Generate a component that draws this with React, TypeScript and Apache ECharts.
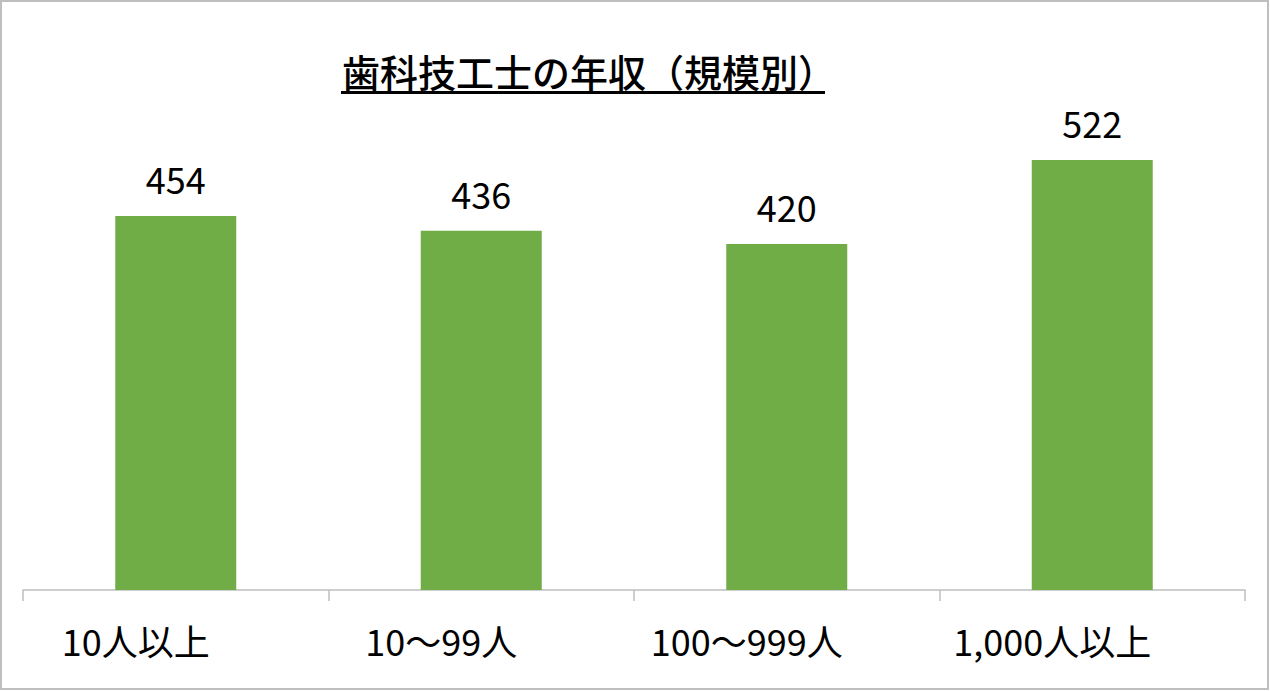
import React, { useEffect, useRef } from "react";
import * as echarts from "echarts";

const titleText = "歯科技工士の年収（規模別）";
const categories = ["10人以上", "10～99人", "100～999人", "1,000人以上"];
const values = [454, 436, 420, 522];

const FONT = "'Noto Sans CJK JP', 'Noto Sans', sans-serif";

export default function App() {
  const ref = useRef<HTMLDivElement>(null);
  useEffect(() => {
    if (!ref.current) return;
    const chart = echarts.init(ref.current, undefined, { renderer: "svg" });
    chart.setOption({
      animation: false,
      backgroundColor: "#ffffff",
      title: {
        text: titleText,
        left: 337,
        top: 46,
        textStyle: { fontFamily: FONT, fontSize: 38, fontWeight: 500, color: "#000" },
      },
      graphic: [
        {
          type: "rect",
          shape: { x: 1, y: 1, width: 1267, height: 688 },
          style: { fill: "none", stroke: "#bfbfbf", lineWidth: 2 },
          silent: true,
        },
        {
          type: "rect",
          shape: { x: 341, y: 91, width: 484, height: 3 },
          style: { fill: "#000" },
          silent: true,
        },
      ],
      grid: { left: 23, right: 25, top: 95.7, bottom: 101, containLabel: false },
      xAxis: {
        type: "category",
        data: categories,
        axisLine: { lineStyle: { color: "#bfbfbf", width: 1.5 } },
        axisTick: { show: true, length: 11, lineStyle: { color: "#bfbfbf", width: 1.5 } },
        axisLabel: {
          fontFamily: FONT,
          fontSize: 36,
          color: "#000",
          margin: 32,
          padding: [0, 80, 0, 0],
        },
      },
      yAxis: {
        type: "value",
        min: 0,
        max: 600,
        show: false,
        splitLine: { show: false },
      },
      series: [
        {
          type: "bar",
          data: values,
          barWidth: 121,
          itemStyle: { color: "#70AD47" },
          label: {
            show: true,
            position: "top",
            distance: 20,
            fontFamily: FONT,
            fontSize: 36,
            color: "#000",
          },
        },
      ],
    });
    return () => chart.dispose();
  }, []);
  return (
    <div
      ref={ref}
      style={{ position: "fixed", left: 0, top: 0, width: 1270, height: 691 }}
    />
  );
}
